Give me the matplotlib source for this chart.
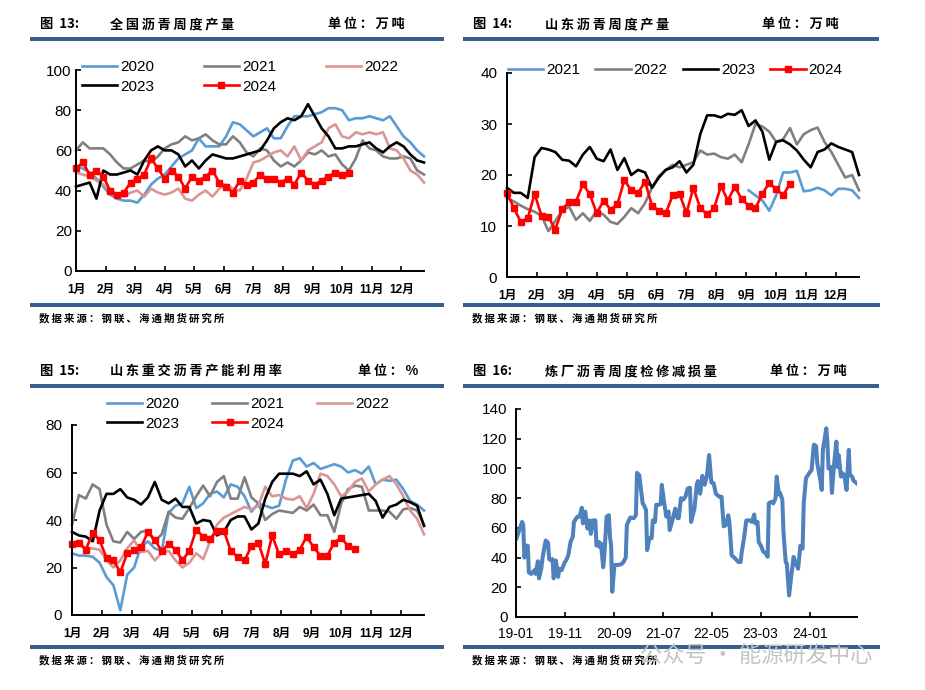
import numpy as np
import pandas as pd
import matplotlib
matplotlib.use('Agg')
import matplotlib.pyplot as plt
import matplotlib.dates as mdates
from matplotlib.patches import Rectangle

plt.rcParams['font.family'] = ['Liberation Sans', 'Noto Sans CJK SC', 'DejaVu Sans']
CJK = ['Noto Sans CJK SC', 'DejaVu Sans']

# ---- data: weekly seasonal series (week 0..51) ----
months = ['1月', '2月', '3月', '4月', '5月', '6月', '7月', '8月', '9月', '10月', '11月', '12月']

# 图13 全国沥青周度产量 (万吨)
nat_2020 = [52, 51, 49, 46, 42, 38, 36, 35, 35, 34, 38, 43, 46, 48, 52, 56, 58, 60, 66, 62, 62, 62, 67, 74, 73, 70,
            67, 69, 71, 66, 66, 72, 77, 77, 77, 78, 79, 81, 81, 80, 75, 76, 76, 77, 76, 75, 77, 72, 67, 64, 60, 57]
nat_2021 = [60, 64, 61, 61, 61, 58, 54, 51, 51, 53, 55, 54, 57, 61, 63, 64, 67, 65, 66, 68, 65, 63, 63, 67, 64, 59,
            57, 61, 60, 55, 52, 54, 52, 55, 59, 58, 60, 57, 58, 53, 50, 56, 65, 61, 60, 57, 56, 56, 57, 56, 50, 48]
nat_2022 = [49, 48, 47, 45, 43, 40, 38, 37, 39, 40, 37, 41, 39, 38, 39, 41, 36, 35, 38, 40, 37, 41, 43, 41, 40, 46,
            54, 55, 57, 59, 60, 57, 62, 55, 60, 62, 64, 71, 73, 67, 66, 69, 68, 69, 68, 69, 61, 60, 56, 50, 48, 44]
nat_2023 = [42, 43, 44, 36, 50, 48, 48, 49, 50, 48, 55, 60, 62, 60, 60, 58, 52, 55, 51, 55, 58, 57, 56, 56, 57, 58,
            59, 60, 65, 71, 74, 76, 75, 77, 83, 77, 71, 67, 61, 61, 62, 62, 63, 64, 61, 59, 62, 64, 62, 58, 55, 54]
nat_2024 = [51, 54, 48, 50, 47, 40, 38, 39, 44, 46, 48, 56, 51, 46, 50, 47, 41, 47, 45, 47, 50, 44, 42, 39, 45, 43,
            44, 48, 46, 46, 44, 46, 43, 49, 45, 43, 45, 47, 49, 48, 49]

# 图14 山东沥青周度产量 (万吨)
sd_2021 = [np.nan] * 35 + [17, 16, 15, 13, 16, 20.5, 20.5, 20.8, 16.8, 17, 17.5, 17, 16, 17.3, 17.3, 17, 15.5]
sd_2022 = [15.5, 14.8, 14, 13.3, 12.8, 12, 9, 11, 13, 13.8, 11.2, 12.5, 11, 13, 12.2, 10.8, 10.4, 11.8, 13.5, 12.5,
           14.5, 17.5, 19.8, 21, 22, 21.5, 22, 22.5, 24.8, 24, 24.2, 23.5, 23.2, 24, 22.5, 26, 30, 29.5, 28.5, 26.5,
           27, 29.2, 26, 28, 28.8, 29.3, 26.5, 24.5, 22, 19.5, 20, 17]
sd_2023 = [17.5, 16.5, 16.5, 15.5, 23.5, 25.3, 25, 24.5, 23, 22.8, 21.7, 24, 25.5, 23.2, 22.7, 25, 21, 23.3, 20, 21,
           20.5, 17.5, 19.5, 21, 21.5, 22.7, 20.5, 22, 28, 31.7, 31.7, 31.3, 32, 31.8, 32.7, 29.6, 30.7, 28.5, 23,
           26.5, 26.8, 26, 24.8, 23, 21.5, 24.5, 25, 26.2, 25.5, 25, 24.5, 20]
sd_2024 = [16.5, 13.5, 10.8, 11.5, 16.3, 12, 11.8, 9.3, 13.3, 14.7, 14.8, 18.2, 16.2, 12.5, 15, 13.2, 14.3, 19, 17,
           16.5, 18.7, 14, 13, 12.5, 16, 16.3, 12.5, 17.5, 13.5, 12.3, 13.5, 17.8, 15, 17.7, 15.3, 14, 13.5, 16.3,
           18.5, 17.2, 16, 18.3]

# 图15 山东重交沥青产能利用率 (%)
ut_2020 = [26, 25, 25, 24.5, 22, 16, 12.5, 2, 17, 20, 29, 31, 28, 27, 43, 46, 47, 54, 45, 47, 51, 52, 49.5, 55, 54,
           50, 43.5, 47, 46, 45, 46, 57, 65, 66, 62.5, 64, 61.5, 62.5, 63.5, 62.5, 60, 61, 59.5, 62.5, 55, 57, 56.5,
           57, 53, 48, 46.5, 44]
ut_2021 = [38, 50.5, 49, 55, 53, 38, 31, 30.5, 35, 32, 35, 35.5, 31, 34, 43.5, 41, 40.5, 45, 50, 54.5, 50, 56, 58.5,
           49, 49, 58, 49.5, 47, 40, 42.5, 44, 43.5, 43, 45.5, 44, 46.5, 42, 42, 35, 47, 53, 54.5, 54, 44, 44, 44,
           43.5, 40.5, 44.5, 45, 44, 38]
ut_2022 = [30, 29.5, 28, 28, 27.5, 23, 20, 23, 28, 31.5, 26.5, 27, 23, 26, 27, 23, 20, 22, 26, 23.5, 31, 38, 41,
           42.5, 44, 45.5, 44.5, 46, 54, 50, 50.5, 49, 48.5, 50, 45, 51, 59.5, 58.5, 55, 50, 52, 56, 57.5, 52, 55,
           57, 58.5, 55, 50, 44, 40.5, 34]
ut_2023 = [35, 33.5, 33, 31, 44, 51, 51, 53, 49.5, 48.5, 46.5, 49.5, 56, 48.5, 47, 49, 45.5, 45.5, 38.5, 40, 39.5,
           33.5, 35, 40, 41.5, 41.5, 36, 38.5, 49, 56, 59.5, 59.5, 59.5, 58.5, 60.5, 55, 57, 51, 42, 49, 49.5, 50,
           50.5, 51, 48, 41, 45.5, 46.5, 48.5, 47.5, 46, 37.5]
ut_2024 = [30, 30.5, 27.5, 34.5, 31.5, 24, 23, 18, 26, 27.5, 28.5, 35, 31.5, 27, 30, 27.5, 23, 27, 36, 33, 32, 35.5,
           35.5, 27, 24.5, 23, 29, 30.5, 21.5, 33.5, 25.5, 27, 25.5, 27.5, 33, 28.5, 25, 25, 30.5, 32.5, 29, 28]

# 图16 炼厂沥青周度检修减损量 (万吨): week number since 2019-01-04, value
loss_week = [0, 3, 5, 6, 7, 9, 10, 11, 13, 16, 17, 19, 20, 22, 23, 25, 26, 28, 29, 31, 32, 33, 35, 37, 38, 40, 43,
             44, 46, 48, 50, 51, 54, 56, 58, 59, 61, 63, 65, 66, 68, 70, 71, 73, 74, 75, 77, 78, 80, 82, 83, 84, 85,
             87, 90, 93, 95, 97, 98, 101, 104, 106, 107, 109, 112, 113, 115, 116, 118, 120, 121, 123, 124, 126, 128,
             129, 131, 133, 135, 136, 138, 141, 143, 144, 146, 148, 150, 152, 154, 155, 158, 160, 161, 163, 165,
             167, 169, 171, 173, 175, 177, 180, 182, 184, 186, 188, 189, 191, 194, 197, 199, 200, 202, 204, 207,
             209, 211, 212, 214, 215, 217, 219, 221, 223, 224, 226, 228, 230, 231, 233, 234, 236, 237, 239, 240,
             242, 244, 246, 248, 250, 252, 254, 255, 257, 260, 262, 263, 264, 266, 267, 270, 271, 272, 273, 275,
             276, 277, 279, 280, 282, 284, 285, 286, 288, 289, 291, 293, 295, 296, 298, 299, 302]
loss_val = [53, 59.5, 64, 62, 40, 48, 48, 30, 29, 31.5, 29, 37.5, 26, 32.5, 39, 48, 51.5, 50, 39, 38, 39, 26, 38, 27,
            32.5, 31.5, 37, 38, 41.5, 50.5, 54, 64, 67.5, 67.5, 73.5, 63, 71, 59.5, 65, 56, 65, 65, 48, 50.5, 47,
            49.5, 33.5, 41.5, 67.5, 68.5, 54, 48, 17, 35, 35, 35.5, 37, 40, 62, 67, 66.5, 68.5, 97, 95.5, 76.5, 75.5,
            72, 45, 53, 53, 65, 64, 75.5, 75.5, 76, 89, 77.5, 67.5, 71, 58.5, 64, 73, 66.5, 66.5, 80, 79, 81, 86.5,
            87, 64, 73, 89, 91.5, 83, 95, 89, 94.5, 109, 90.5, 90, 83, 81, 81, 61, 62, 68.5, 64, 41.5, 39.5, 37, 37,
            44, 53, 65, 65, 64, 69, 63, 64, 50.5, 48, 44, 43, 40.5, 76.5, 77.5, 76.5, 80, 94.5, 82.5, 83.5, 79,
            57.5, 37, 36, 14.5, 28, 40.5, 36, 32.5, 48, 46, 76.5, 93.5, 97, 99, 108, 116, 115, 103.5, 91, 85.5,
            112.5, 117, 127, 118, 100, 101, 83.5, 103.5, 118, 101, 109, 94.5, 97, 95.5, 85.5, 112.5, 95.5, 94.5,
            92, 90]

C_BLUE = '#5B9BD5'
C_GRAY = '#808080'
C_PINK = '#DA9694'
C_RED = '#FF0000'
C_BAR = '#37608F'
W, H = 925, 690

fig = plt.figure(figsize=(W / 100, H / 100), dpi=100)
fig.patch.set_facecolor('white')


def px_axes(left, top, right, bottom):
    return fig.add_axes([left / W, 1 - bottom / H, (right - left) / W, (bottom - top) / H])


def sp(s):
    return '\u2009'.join(s)


def header(x0, x1, y, fig_no, title, unit, x_title, x_unit):
    fig.text((x0 + 10) / W, 1 - y / H, sp('图') + '  ' + fig_no, family=CJK, fontsize=9.5,
             fontweight='bold', va='center')
    fig.text(x_title / W, 1 - y / H, sp(title), family=CJK, fontsize=9.5, fontweight='bold', va='center')
    fig.text(x_unit / W, 1 - y / H, sp(unit), family=CJK, fontsize=9.5, fontweight='bold', va='center')
    fig.add_artist(Rectangle((x0 / W, 1 - (y + 17) / H), (x1 - x0) / W, 4 / H,
                             transform=fig.transFigure, color=C_BAR, lw=0))


def footer(x0, x1, y):
    fig.add_artist(Rectangle((x0 / W, 1 - (y + 2) / H), (x1 - x0) / W, 4 / H,
                             transform=fig.transFigure, color=C_BAR, lw=0))
    fig.text((x0 + 9) / W, 1 - (y + 13) / H, sp('数据来源：钢联、海通期货研究所'), family=CJK,
             fontsize=7.5, fontweight='bold', va='center')


def style(ax, ymax, ystep, ypad):
    for s in ['top', 'right']:
        ax.spines[s].set_visible(False)
    for s in ['left', 'bottom']:
        ax.spines[s].set_linewidth(1.4)
    ax.set_ylim(0, ymax)
    ax.set_yticks(np.arange(0, ymax + 1, ystep))
    ax.tick_params(axis='y', direction='in', length=3.5, width=1.2, labelsize=11, pad=ypad)
    ax.tick_params(axis='x', direction='in', length=3.5, width=1.2, pad=9)


def season(ax):
    ax.set_xlim(0, 51)
    ax.set_xticks(np.arange(12) * 52 / 12)
    ax.set_xticklabels(months, fontsize=8.5, fontweight='bold')


def line(ax, vals, color, label, marker=None):
    x = np.arange(len(vals))
    if marker:
        return ax.plot(x, vals, color=color, lw=1.9, marker='s', ms=4.5, label=label, clip_on=False)[0]
    return ax.plot(x, vals, color=color, lw=1.9, label=label, clip_on=False)[0]


def legend(ax, handles, ncol, x, y_top, colspace):
    ax.legend(handles=handles, ncol=ncol, loc='upper left', bbox_to_anchor=(x / W, 1 - y_top / H),
              bbox_transform=fig.transFigure, frameon=False, fontsize=11, handlelength=2.3,
              handletextpad=0.2, columnspacing=colspace, labelspacing=0.38, borderpad=0, borderaxespad=0)


# ---- panel 13 ----
header(30, 444, 24, '13:', '全国沥青周度产量', '单位：万吨', 110, 328)
ax1 = px_axes(76, 70, 424, 271)
style(ax1, 100, 20, 3)
season(ax1)
h = [line(ax1, nat_2020, C_BLUE, '2020'), line(ax1, nat_2021, C_GRAY, '2021'),
     line(ax1, nat_2022, C_PINK, '2022'), line(ax1, nat_2023, 'black', '2023'),
     line(ax1, nat_2024, C_RED, '2024', marker=True)]
legend(ax1, [h[0], h[3], h[1], h[4], h[2]], 3, 82, 60, 3.25)
footer(30, 444, 305)

# ---- panel 14 ----
header(463, 879, 24, '14:', '山东沥青周度产量', '单位：万吨', 545, 762)
ax2 = px_axes(507, 73, 859, 277)
style(ax2, 40, 10, 7)
season(ax2)
h = [line(ax2, sd_2021, C_BLUE, '2021'), line(ax2, sd_2022, C_GRAY, '2022'),
     line(ax2, sd_2023, 'black', '2023'), line(ax2, sd_2024, C_RED, '2024', marker=True)]
legend(ax2, h, 4, 508, 63, 1.0)
footer(463, 880, 305)

# ---- panel 15 ----
header(30, 444, 371, '15:', '山东重交沥青产能利用率', '单位：%', 110, 358)
ax3 = px_axes(72, 425, 424, 615)
style(ax3, 80, 20, 7)
season(ax3)
h = [line(ax3, ut_2020, C_BLUE, '2020'), line(ax3, ut_2021, C_GRAY, '2021'),
     line(ax3, ut_2022, C_PINK, '2022'), line(ax3, ut_2023, 'black', '2023'),
     line(ax3, ut_2024, C_RED, '2024', marker=True)]
legend(ax3, [h[0], h[3], h[1], h[4], h[2]], 3, 107, 397, 2.15)
footer(30, 444, 647)

# ---- panel 16 ----
header(463, 879, 371, '16:', '炼厂沥青周度检修减损量', '单位：万吨', 545, 770)
ax4 = px_axes(516, 409, 857, 617)
style(ax4, 140, 20, 6)
dates = pd.Timestamp('2019-01-04') + pd.to_timedelta(np.array(loss_week) * 7, unit='D')
ax4.plot(dates, loss_val, color='#4F81BD', lw=2.9, solid_joinstyle='round')
ax4.set_xlim(pd.Timestamp('2019-01-01'), pd.Timestamp('2024-10-20'))
ax4.set_xticks(pd.to_datetime(['2019-01-01', '2019-11-01', '2020-09-01', '2021-07-01',
                               '2022-05-01', '2023-03-01', '2024-01-01']))
ax4.xaxis.set_major_formatter(mdates.DateFormatter('%y-%m'))
ax4.tick_params(axis='x', labelsize=10, pad=7)
footer(463, 880, 647)

fig.text(640 / W, 1 - 655 / H, '公众号 · 能源研发中心', family=CJK, fontsize=16, color='#C4C4C4',
         va='center', zorder=10)

fig.savefig('out.png', dpi=100, facecolor='white')
